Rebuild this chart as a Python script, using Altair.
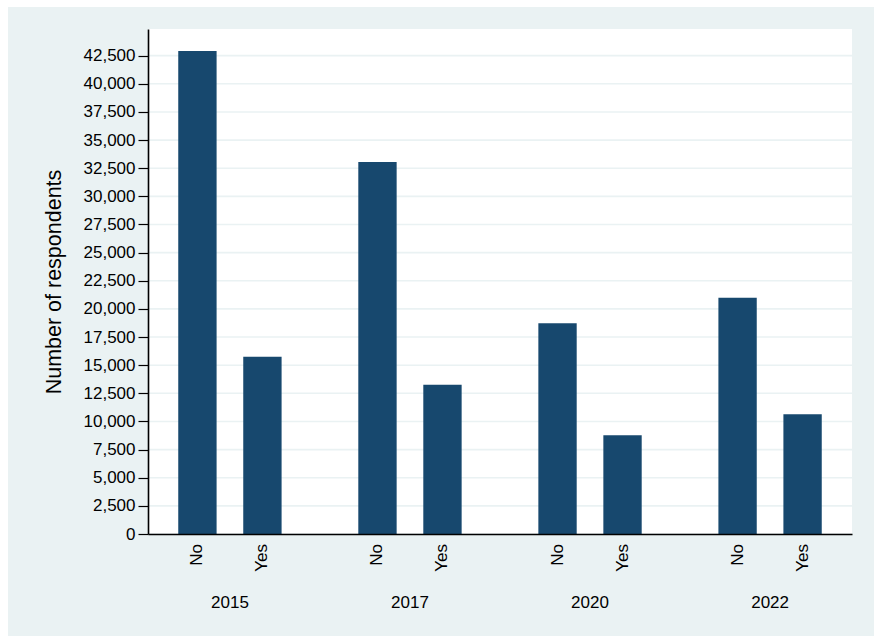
import altair as alt
import pandas as pd

years = ["2015", "2015", "2017", "2017", "2020", "2020", "2022", "2022"]
answers = ["No", "Yes", "No", "Yes", "No", "Yes", "No", "Yes"]
counts = [42920, 15760, 33060, 13270, 18720, 8770, 21000, 10640]
tick_values = list(range(0, 42501, 2500))

df = pd.DataFrame({"year": years, "answer": answers, "count": counts})
grid_df = pd.DataFrame({"v": tick_values})

W, H = 704, 505
FONT = "Liberation Sans"
BAR = "#17486e"
PANEL = "#EAF2F3"

yscale = alt.Scale(domain=[0, 44870], nice=False, zero=True)
yaxis = alt.Axis(
    values=tick_values, format=",d", grid=False, title="Number of respondents",
    labelFontSize=17, labelFont=FONT, labelColor="black", labelPadding=3,
    tickSize=10, tickColor="black", tickWidth=1.2,
    domainColor="black", domainWidth=1.6,
    titleFontSize=21.5, titleFont=FONT, titleFontWeight="normal", titleColor="black",
    titlePadding=18, zindex=1,
)
xscale = alt.Scale(paddingInner=0.278, paddingOuter=0.094)
xaxis = alt.Axis(
    title=None, labelAngle=0, ticks=False, labelPadding=60,
    labelFontSize=17, labelFont=FONT, labelColor="black",
    domainColor="black", domainWidth=1.6, zindex=1,
)
xoff_scale = alt.Scale(paddingInner=0.41, paddingOuter=0.205)

one = alt.Data(values=[{"a": 1}])

panel = alt.Chart(one).mark_rect(color=PANEL).encode(
    x=alt.value(-140), x2=alt.value(726), y=alt.value(-22), y2=alt.value(607)
)
plotbg = alt.Chart(one).mark_rect(color="white").encode(
    x=alt.value(0), x2=alt.value(W), y=alt.value(0), y2=alt.value(H)
)
grid = alt.Chart(grid_df).mark_rule(color=PANEL, strokeWidth=1.6).encode(
    y=alt.Y("v:Q", scale=yscale, axis=yaxis)
)
bars = alt.Chart(df).mark_bar(color=BAR).encode(
    x=alt.X("year:N", scale=xscale, axis=xaxis),
    xOffset=alt.XOffset("answer:N", scale=xoff_scale),
    y=alt.Y("count:Q", scale=yscale, axis=yaxis),
)
labels = alt.Chart(df).mark_text(
    angle=270, align="right", baseline="middle", fontSize=17, font=FONT, color="black"
).encode(
    x=alt.X("year:N", scale=xscale, axis=xaxis),
    xOffset=alt.XOffset("answer:N", scale=xoff_scale),
    y=alt.value(H + 10),
    text="answer:N",
)

chart = alt.layer(panel, plotbg, grid, bars, labels).properties(
    width=W, height=H,
    padding={"left": 8, "top": 7, "right": 10, "bottom": 7},
    autosize=alt.AutoSizeParams(type="pad"),
    background="white",
).configure_view(stroke=None)

chart.save("out.html", embed_options={"renderer": "svg", "actions": False})
